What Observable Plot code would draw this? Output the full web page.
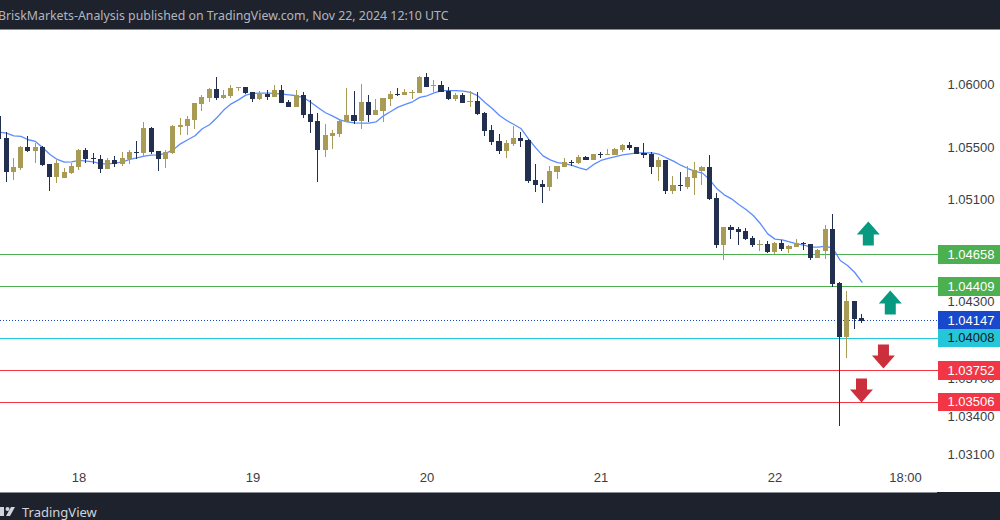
<!DOCTYPE html>
<html><head><meta charset="utf-8">
<script src="https://cdn.jsdelivr.net/npm/d3@7"></script>
<script src="https://cdn.jsdelivr.net/npm/@observablehq/plot@0.6"></script>
<style>
html,body{margin:0;padding:0;background:#fff;overflow:hidden;width:1000px;height:520px}
#top{box-sizing:border-box;height:30px;background:#1e222d;border-bottom:1px solid #8a8d96;color:#b2b5be;font:12.35px/32px "Noto Sans",sans-serif;white-space:nowrap;margin-left:-2px;width:1002px}
#bottom{box-sizing:border-box;height:28px;background:#1e222d;color:#d1d4dc;font:13px/30px "Noto Sans",sans-serif;position:relative;overflow:hidden}
#bottom i{position:absolute;left:0;top:0;width:937px;height:1px;background:#8a8d96}
#bottom span{position:absolute;left:22px;top:5px;line-height:30px}
#bottom svg{position:absolute;left:-4px;top:14px}
svg{display:block}
</style></head><body>
<div id="top">BriskMarkets-Analysis published on TradingView.com, Nov 22, 2024 12:10 UTC</div>
<div id="chart"></div>
<div id="bottom"><i></i><svg width="22" height="12" viewBox="0 0 22 12"><path d="M0 1h8v9H4V5H0zM19 1l-5 9h-4l5-9z" fill="#d1d4dc"/><circle cx="11.5" cy="3" r="2" fill="#d1d4dc"/></svg><span>TradingView</span></div>
<script>
const opens=[1.05640,1.05577,1.05311,1.05342,1.05507,1.05475,1.05507,1.05374,1.05272,1.05264,1.05303,1.05350,1.05483,1.05421,1.05413,1.05335,1.05405,1.05374,1.05413,1.05468,1.05460,1.05655,1.05475,1.05413,1.05460,1.05663,1.05671,1.05718,1.05843,1.05890,1.05960,1.05890,1.05905,1.05968,1.05976,1.05937,1.05882,1.05921,1.05898,1.05952,1.05859,1.05819,1.05913,1.05765,1.05710,1.05483,1.05593,1.05608,1.05702,1.05757,1.05710,1.05859,1.05757,1.05788,1.05882,1.05921,1.05913,1.05929,1.05929,1.06054,1.05984,1.05992,1.05945,1.05882,1.05913,1.05859,1.05866,1.05773,1.05640,1.05554,1.05475,1.05530,1.05577,1.05561,1.05249,1.05217,1.05194,1.05311,1.05350,1.05389,1.05382,1.05428,1.05405,1.05452,1.05444,1.05444,1.05483,1.05522,1.05507,1.05460,1.05452,1.05350,1.05405,1.05163,1.05210,1.05194,1.05264,1.05319,1.05350,1.05108,1.04740,1.04881,1.04865,1.04850,1.04795,1.04740,1.04748,1.04686,1.04756,1.04709,1.04725,1.04756,1.04748,1.04639,1.04693,1.04865,1.04443,1.04021,1.04302,1.04169];
const highs=[1.05749,1.05621,1.05421,1.05514,1.05593,1.05538,1.05514,1.05374,1.05405,1.05342,1.05382,1.05491,1.05499,1.05460,1.05444,1.05421,1.05436,1.05468,1.05483,1.05554,1.05702,1.05663,1.05475,1.05483,1.05679,1.05733,1.05749,1.05851,1.05913,1.05968,1.06054,1.05952,1.05992,1.05976,1.05976,1.05937,1.05945,1.05952,1.05992,1.05992,1.05874,1.05952,1.05937,1.05874,1.05773,1.05687,1.05640,1.05718,1.05968,1.05945,1.05999,1.05913,1.05882,1.05890,1.05945,1.05968,1.05960,1.05952,1.06062,1.06085,1.06031,1.06023,1.05976,1.05929,1.05929,1.05945,1.05937,1.05780,1.05679,1.05608,1.05561,1.05671,1.05624,1.05569,1.05374,1.05249,1.05358,1.05358,1.05421,1.05405,1.05444,1.05436,1.05452,1.05468,1.05491,1.05499,1.05530,1.05546,1.05507,1.05538,1.05468,1.05428,1.05405,1.05280,1.05311,1.05358,1.05389,1.05358,1.05444,1.05147,1.04881,1.04897,1.04881,1.04873,1.04811,1.04779,1.04772,1.04764,1.04779,1.04740,1.04787,1.04764,1.04748,1.04709,1.04897,1.04983,1.04451,1.04381,1.04302,1.04201];
const lows=[1.05572,1.05233,1.05249,1.05327,1.05468,1.05382,1.05358,1.05163,1.05225,1.05264,1.05296,1.05327,1.05382,1.05374,1.05303,1.05335,1.05350,1.05358,1.05374,1.05413,1.05428,1.05452,1.05319,1.05342,1.05452,1.05601,1.05601,1.05647,1.05788,1.05859,1.05874,1.05882,1.05890,1.05945,1.05921,1.05859,1.05874,1.05874,1.05898,1.05851,1.05819,1.05819,1.05733,1.05616,1.05233,1.05428,1.05491,1.05585,1.05702,1.05687,1.05647,1.05702,1.05757,1.05702,1.05827,1.05905,1.05913,1.05882,1.05929,1.05976,1.05937,1.05937,1.05874,1.05866,1.05851,1.05819,1.05757,1.05593,1.05522,1.05452,1.05421,1.05514,1.05507,1.05225,1.05155,1.05069,1.05163,1.05256,1.05350,1.05358,1.05374,1.05405,1.05405,1.05421,1.05444,1.05444,1.05468,1.05483,1.05452,1.05421,1.05296,1.05241,1.05139,1.05139,1.05163,1.05178,1.05131,1.05210,1.05092,1.04717,1.04623,1.04787,1.04740,1.04779,1.04725,1.04693,1.04678,1.04670,1.04693,1.04678,1.04725,1.04701,1.04623,1.04639,1.04631,1.04412,1.03325,1.03857,1.04083,1.04130];
const closes=[1.05640,1.05311,1.05350,1.05507,1.05475,1.05507,1.05366,1.05272,1.05382,1.05311,1.05358,1.05483,1.05413,1.05413,1.05335,1.05405,1.05374,1.05421,1.05468,1.05460,1.05655,1.05468,1.05413,1.05468,1.05671,1.05679,1.05726,1.05851,1.05898,1.05960,1.05890,1.05913,1.05968,1.05976,1.05929,1.05882,1.05921,1.05898,1.05952,1.05851,1.05819,1.05913,1.05757,1.05702,1.05483,1.05601,1.05616,1.05710,1.05757,1.05710,1.05859,1.05757,1.05796,1.05890,1.05921,1.05913,1.05937,1.05937,1.06054,1.05976,1.05992,1.05937,1.05882,1.05913,1.05851,1.05866,1.05765,1.05632,1.05546,1.05475,1.05538,1.05577,1.05554,1.05241,1.05210,1.05194,1.05319,1.05358,1.05389,1.05382,1.05428,1.05405,1.05452,1.05444,1.05452,1.05491,1.05522,1.05499,1.05452,1.05444,1.05350,1.05405,1.05163,1.05210,1.05202,1.05272,1.05327,1.05350,1.05100,1.04740,1.04881,1.04858,1.04842,1.04787,1.04740,1.04748,1.04686,1.04756,1.04709,1.04732,1.04756,1.04748,1.04639,1.04701,1.04865,1.04435,1.04021,1.04302,1.04162,1.04146];
const maValues=[1.05624,1.05619,1.05598,1.05593,1.05567,1.05554,1.05504,1.05452,1.05413,1.05392,1.05394,1.05405,1.05400,1.05394,1.05379,1.05379,1.05384,1.05394,1.05413,1.05426,1.05439,1.05447,1.05449,1.05462,1.05488,1.05535,1.05567,1.05598,1.05653,1.05684,1.05739,1.05801,1.05848,1.05879,1.05916,1.05929,1.05932,1.05932,1.05929,1.05924,1.05918,1.05911,1.05895,1.05859,1.05817,1.05778,1.05752,1.05723,1.05707,1.05699,1.05697,1.05697,1.05707,1.05754,1.05788,1.05822,1.05843,1.05864,1.05898,1.05911,1.05934,1.05952,1.05952,1.05952,1.05947,1.05937,1.05911,1.05859,1.05812,1.05757,1.05718,1.05686,1.05653,1.05574,1.05504,1.05441,1.05410,1.05389,1.05381,1.05366,1.05348,1.05332,1.05374,1.05405,1.05421,1.05436,1.05449,1.05457,1.05465,1.05465,1.05465,1.05454,1.05426,1.05400,1.05368,1.05342,1.05319,1.05306,1.05254,1.05183,1.05136,1.05105,1.05061,1.05022,1.04975,1.04910,1.04831,1.04790,1.04784,1.04769,1.04753,1.04743,1.04727,1.04727,1.04735,1.04717,1.04623,1.04584,1.04529,1.04453];
const firstBar=-11;
const priceTicks=[1.06,1.055,1.051,1.047,1.043,1.037,1.034,1.031];
const timeTicks=[0,24,48,72,96,114];
const timeLabels=["18","19","20","21","22","18:00"];
const levelPrices=[1.04658,1.04409,1.04008,1.03752,1.03506];
const levelColors=["#4caf50","#4caf50","#26c6da","#f23645","#f23645"];
const levelText=["#ffffff","#ffffff","#131722","#ffffff","#ffffff"];
const lastPrice=1.04147, lastColor="#1848cc";
const arrowHours=[108.87,111.9,110.96,107.93];
const arrowPrices=[1.04834,1.04294,1.03872,1.03606];
const arrowDirs=["up","up","down","down"];

const upColor="#a89b55", downColor="#232f4e", maColor="#5b8cff";
const font="'Liberation Sans',Arial,sans-serif";
const xMin=-10.828,xFrame=118.552,xMax=127.103;
const pxPrice=7.82e-5;

const bars=opens.map((o,i)=>({h:i===0?-10.8:firstBar+i,o,hi:highs[i],lo:lows[i],c:closes[i]}));
const ma=maValues.map((v,i)=>({h:firstBar+i+(i===0?0.17:0),v}));
const levels=levelPrices.map((p,i)=>({p,color:levelColors[i],text:levelText[i]}));
const boxes=[...levels,{p:lastPrice,color:lastColor,text:"#ffffff"}];
const arrows=arrowHours.map((h,i)=>({h,p:arrowPrices[i],d:arrowDirs[i]}));

function arrowSymbol(s){return {draw(c){
  const pts=[[0,-12],[11.5,1],[5.5,1],[5.5,12],[-5.5,12],[-5.5,1],[-11.5,1]];
  pts.forEach(([x,y],i)=>i?c.lineTo(x,y*s):c.moveTo(x,y*s));c.closePath();}}}
const halfBox=9.3*pxPrice;
const fmt=d3.format(".5f");
const barColor=d=>d.c>d.o?upColor:downColor;

const chart=Plot.plot({
  width:1000,height:462,marginLeft:0,marginRight:62,marginTop:0,marginBottom:27,
  style:{background:"#fff",fontFamily:font,display:"block"},
  x:{domain:[xMin,xFrame]},
  y:{domain:[1.030197,1.064214]},
  color:{type:"identity"},
  marks:[
    Plot.axisY({anchor:"right",ticks:priceTicks,tickFormat:fmt,tickSize:0,tickPadding:9,label:null,fontSize:13,color:"#3a3d45"}),
    Plot.axisX({ticks:timeTicks,tickFormat:d=>timeLabels[timeTicks.indexOf(d)],tickSize:0,tickPadding:7,label:null,fontSize:13,color:"#3a3d45"}),
    Plot.ruleY(levels,{y:"p",stroke:d=>d.color,strokeWidth:1,dy:-1,shapeRendering:"crispEdges"}),
    Plot.ruleY([lastPrice],{stroke:lastColor,strokeWidth:1,strokeDasharray:"1 2",dy:-1,shapeRendering:"crispEdges"}),
    Plot.line(ma,{x:"h",y:"v",stroke:maColor,strokeWidth:1.3,curve:"linear"}),
    Plot.ruleX(bars,{x:"h",y1:"lo",y2:"hi",stroke:barColor,strokeWidth:1,dx:-0.5,shapeRendering:"crispEdges"}),
    Plot.rect(bars.filter(d=>d.c!==d.o),{x1:d=>d.h-0.345,x2:d=>d.h+0.345,y1:"o",y2:"c",fill:barColor,shapeRendering:"crispEdges"}),
    Plot.dot(arrows.filter(a=>a.d==="up"),{x:"h",y:"p",r:12,fill:"#089981",stroke:"none",symbol:arrowSymbol(1)}),
    Plot.dot(arrows.filter(a=>a.d==="down"),{x:"h",y:"p",r:12,fill:"#cc2f3c",stroke:"none",symbol:arrowSymbol(-1)}),
    Plot.rect(boxes,{x1:xFrame,x2:xMax,y1:d=>d.p-halfBox,y2:d=>d.p+halfBox,fill:d=>d.color,dy:-1,shapeRendering:"crispEdges"}),
    Plot.text(boxes,{x:xFrame+1.24,y:"p",text:d=>fmt(d.p),fill:d=>d.text,fontSize:13,textAnchor:"start",dy:-1})
  ]
});
document.getElementById("chart").appendChild(chart);
</script>
</body></html>
